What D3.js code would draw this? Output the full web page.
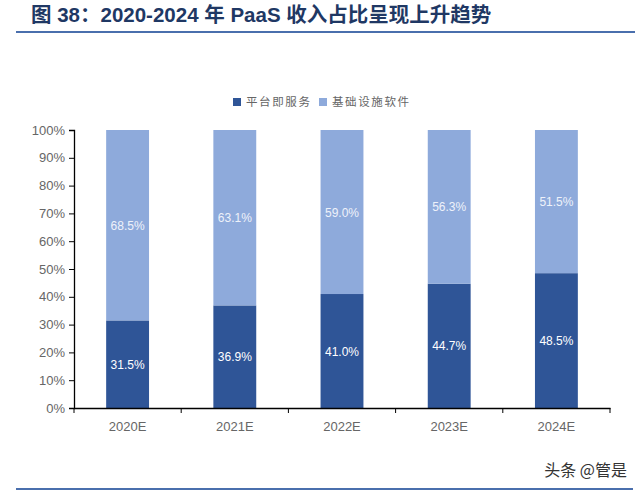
<!DOCTYPE html>
<html lang="zh">
<head>
<meta charset="UTF-8">
<title>PaaS 收入占比</title>
<script src="https://d3js.org/d3.v7.min.js"></script>
<style>
  body { margin: 0; background: #fff; }
  svg { display: block; }
</style>
</head>
<body>
<div class="chart"></div>
<script>
const years = ["2020E", "2021E", "2022E", "2023E", "2024E"];
const paas = [31.5, 36.9, 41.0, 44.7, 48.5];       // 平台即服务
const infra = [68.5, 63.1, 59.0, 56.3, 51.5];      // 基础设施软件
const seriesNames = ["平台即服务", "基础设施软件"];
const yTicks = [0, 10, 20, 30, 40, 50, 60, 70, 80, 90, 100];

const width = 640, height = 491;
const margin = { top: 130, right: 30, bottom: 83, left: 74 };
const colors = ["#2f5597", "#8eaadb"];
const cjk = "'Noto Sans CJK SC', 'Noto Sans', sans-serif";
const latin = "'Liberation Sans', Arial, sans-serif";

const svg = d3.select(".chart").append("svg")
  .attr("width", width)
  .attr("height", height);

// title + rules
svg.append("text")
  .attr("x", 31).attr("y", 22)
  .attr("font-family", "'Liberation Sans', " + cjk)
  .attr("font-weight", "bold")
  .attr("font-size", 20.5)
  .attr("fill", "#1f3864")
  .text("图 38：2020-2024 年 PaaS 收入占比呈现上升趋势");
svg.append("line")
  .attr("x1", 16).attr("x2", 635).attr("y1", 32).attr("y2", 32)
  .attr("stroke", "#4a6fad").attr("stroke-width", 2);
svg.append("line")
  .attr("x1", 16).attr("x2", 633).attr("y1", 489).attr("y2", 489)
  .attr("stroke", "#4a6fad").attr("stroke-width", 2);

const x = d3.scaleBand()
  .domain(years)
  .range([margin.left, width - margin.right])
  .paddingInner(0.6)
  .paddingOuter(0.3);

const y = d3.scaleLinear()
  .domain([0, 100])
  .range([height - margin.bottom, margin.top])
  .clamp(true);

const rows = years.map((yr, i) => ({ year: yr, paas: paas[i], infra: infra[i] }));
const keys = ["paas", "infra"];
const stack = d3.stack().keys(keys)(rows);

svg.append("g").selectAll("g")
  .data(stack)
  .join("g")
  .attr("fill", (d, i) => colors[i])
  .selectAll("rect")
  .data(d => d)
  .join("rect")
  .attr("x", d => x(d.data.year))
  .attr("width", x.bandwidth())
  .attr("y", d => y(d[1]))
  .attr("height", d => y(d[0]) - y(d[1]));

// value labels
stack.forEach((layer, li) => {
  svg.append("g").selectAll("text")
    .data(layer)
    .join("text")
    .attr("x", d => x(d.data.year) + x.bandwidth() / 2)
    .attr("y", d => (y(d[0]) + y(d[1])) / 2 + 4.5)
    .attr("text-anchor", "middle")
    .attr("font-family", latin)
    .attr("font-size", 12)
    .attr("fill", li === 0 ? "#ffffff" : "#eef2fa")
    .text(d => d.data[keys[li]].toFixed(1) + "%");
});

// axes
const xAxis = d3.axisBottom(x).tickSize(0).tickPadding(14);
const gx = svg.append("g")
  .attr("transform", `translate(0,${height - margin.bottom})`)
  .call(xAxis);
gx.select(".domain").attr("stroke", "#000").attr("stroke-width", 1.3);
gx.selectAll("text").attr("font-family", latin).attr("font-size", 13).attr("fill", "#666");
// tick marks between categories
const bounds = years.map(yr => x(yr) - x.step() * x.paddingInner() / 2)
  .concat([width - margin.right]);
gx.selectAll(".sep")
  .data(bounds)
  .join("line")
  .attr("class", "sep")
  .attr("x1", d => d).attr("x2", d => d)
  .attr("y1", 0).attr("y2", 5)
  .attr("stroke", "#000");

const yAxis = d3.axisLeft(y).tickValues(yTicks).tickSize(5).tickPadding(4)
  .tickFormat(d => d + "%");
const gy = svg.append("g")
  .attr("transform", `translate(${margin.left},0)`)
  .call(yAxis);
gy.select(".domain").attr("stroke", "#000").attr("stroke-width", 1.3);
gy.selectAll(".tick line").attr("stroke", "#000");
gy.selectAll("text").attr("font-family", latin).attr("font-size", 13).attr("fill", "#666");

// legend
const legend = svg.append("g").attr("transform", "translate(233,101.5)");
const legX = [0, 86];
seriesNames.forEach((name, i) => {
  legend.append("rect")
    .attr("x", legX[i]).attr("y", -3.5)
    .attr("width", 8).attr("height", 8)
    .attr("fill", colors[i]);
  legend.append("text")
    .attr("x", legX[i] + 13).attr("y", 4.5)
    .attr("font-family", cjk)
    .attr("font-size", 11.5)
    .attr("letter-spacing", 1.6)
    .attr("fill", "#666")
    .text(name);
});

// watermark
svg.append("text")
  .attr("x", 627).attr("y", 476)
  .attr("text-anchor", "end")
  .attr("font-family", cjk)
  .attr("font-size", 16)
  .attr("fill", "#333")
  .text("头条 @管是");
</script>
</body>
</html>
